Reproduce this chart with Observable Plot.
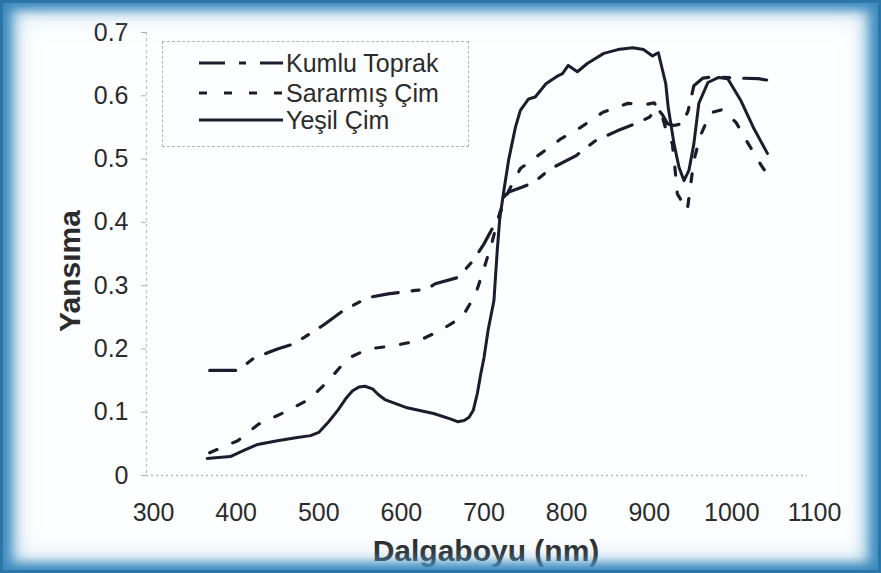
<!DOCTYPE html>
<html>
<head>
<meta charset="utf-8">
<script src="https://cdn.jsdelivr.net/npm/d3@7"></script>
<script src="https://cdn.jsdelivr.net/npm/@observablehq/plot@0.6"></script>
<style>
  html, body { margin:0; padding:0; background:#ffffff; }
  #wrap { position:relative; width:881px; height:573px; overflow:hidden; background:#fdfeff; font-family:"Liberation Sans", Arial, sans-serif; }
  #chart { position:absolute; left:0; top:0; }
  #legend { position:absolute; left:162px; top:41px; width:307px; height:106px; border:1.5px dashed #b5b5b5; box-sizing:border-box; }
  .row { position:absolute; left:35px; height:30px; display:flex; align-items:center; font-size:25px; color:#2b2b2b; }
  .row svg { margin-right:2px; }
  #frame { position:absolute; left:0; top:0; width:881px; height:573px; pointer-events:none;
    box-shadow: inset 0 0 0 3px #2b75a7, inset 0 0 12px 8px #3a8abd, inset 10px 0 16px 2px rgba(70,145,195,0.8), inset -10px 0 16px 2px rgba(70,145,195,0.8), inset 0 0 26px 12px rgba(140,190,220,0.5); }
</style>
</head>
<body>
<div id="wrap">
  <div id="chart"></div>
  <div id="legend"></div>
  <div id="frame"></div>
</div>
<script>
// Series names
const seriesNames = ["Kumlu Toprak", "Sararmış Çim", "Yeşil Çim"];

// Kumlu Toprak
const kumluX = [368, 402, 421, 450, 470, 482, 505, 529, 559, 584, 614, 630, 641, 669, 687, 700, 710, 718, 724, 730, 745, 760, 781, 811, 835, 862, 887, 900, 910, 916, 922, 930, 940, 947, 954, 965, 978, 1007, 1032, 1042];
const kumluY = [0.166, 0.166, 0.185, 0.200, 0.208, 0.218, 0.237, 0.260, 0.281, 0.287, 0.292, 0.294, 0.303, 0.313, 0.340, 0.366, 0.390, 0.408, 0.440, 0.448, 0.455, 0.463, 0.485, 0.505, 0.529, 0.545, 0.558, 0.566, 0.580, 0.570, 0.556, 0.553, 0.556, 0.576, 0.616, 0.628, 0.630, 0.628, 0.627, 0.625];

// Sararmış Çim
const sararmisX = [368, 377, 402, 427, 457, 488, 512, 535, 560, 590, 621, 647, 674, 690, 700, 710, 718, 730, 744, 769, 793, 817, 844, 874, 895, 906, 916, 920, 928, 931, 934, 946, 950, 954, 962, 974, 988, 1005, 1020, 1037, 1042];
const sararmisY = [0.036, 0.041, 0.055, 0.081, 0.099, 0.120, 0.150, 0.185, 0.200, 0.205, 0.213, 0.229, 0.251, 0.287, 0.327, 0.370, 0.410, 0.450, 0.485, 0.509, 0.532, 0.550, 0.574, 0.588, 0.586, 0.589, 0.566, 0.548, 0.524, 0.487, 0.445, 0.419, 0.458, 0.498, 0.537, 0.573, 0.578, 0.558, 0.524, 0.487, 0.478];

// Yeşil Çim
const yesilX = [365, 375, 393, 410, 426, 450, 474, 490, 500, 512, 523, 533, 541, 549, 556, 565, 572, 580, 607, 639, 660, 668, 676, 682, 687, 692, 696, 700, 705, 712, 716, 719, 724, 730, 738, 744, 754, 762, 775, 790, 795, 802, 813, 825, 845, 862, 880, 893, 904, 911, 920, 923, 930, 936, 942, 948, 954, 960, 971, 984, 995, 1011, 1026, 1043];
const yesilY = [0.027, 0.028, 0.030, 0.040, 0.049, 0.055, 0.060, 0.063, 0.068, 0.085, 0.103, 0.122, 0.134, 0.140, 0.141, 0.137, 0.128, 0.120, 0.107, 0.098, 0.089, 0.085, 0.087, 0.092, 0.103, 0.130, 0.160, 0.186, 0.230, 0.276, 0.355, 0.405, 0.450, 0.500, 0.550, 0.577, 0.595, 0.598, 0.619, 0.632, 0.635, 0.648, 0.638, 0.651, 0.667, 0.673, 0.676, 0.673, 0.663, 0.668, 0.619, 0.581, 0.524, 0.487, 0.466, 0.482, 0.524, 0.588, 0.621, 0.629, 0.627, 0.592, 0.550, 0.509];

// Axis ticks and titles
const xTicks = [300, 400, 500, 600, 700, 800, 900, 1000, 1100];
const yTicks = [0, 0.1, 0.2, 0.3, 0.4, 0.5, 0.6, 0.7];
const xTitle = "Dalgaboyu (nm)";
const yTitle = "Yansıma";

const lineColor = "#1c1d2c";
const dashes = ["26,14,7,14", "8,17", null];

const toRows = (xs, ys) => xs.map((x, i) => ({x, y: ys[i]}));
const kumlu = toRows(kumluX, kumluY);
const sararmis = toRows(sararmisX, sararmisY);
const yesil = toRows(yesilX, yesilY);

const fmtY = d => d === 0 ? "0" : d.toFixed(1);
const fmtX = d => String(d);

const chart = Plot.plot({
  width: 881,
  height: 573,
  marginLeft: 153,
  marginRight: 67,
  marginTop: 32,
  marginBottom: 98,
  style: {fontFamily: "'Liberation Sans', Arial, sans-serif", fontSize: "25px", color: "#2b2b2b", background: "transparent", overflow: "visible"},
  x: {domain: [300, 1100]},
  y: {domain: [0, 0.7]},
  marks: [
    Plot.ruleY([0], {stroke: "#b8b8b8", strokeDasharray: "2,3", strokeWidth: 1.5, dx: -7}),
    Plot.ruleX([300], {dx: -7, stroke: "#c4c4c4", strokeDasharray: "3,3", strokeWidth: 1.2}),
    Plot.axisY({ticks: yTicks, tickFormat: fmtY, dx: -7, tickSize: 5, tickPadding: 13, stroke: "#b0b0b0", label: null}),
    Plot.axisX({ticks: xTicks, tickFormat: fmtX, tickSize: 0, tickPadding: 28, label: null}),
    Plot.line(sararmis, {x: "x", y: "y", stroke: lineColor, strokeWidth: 3.2, strokeDasharray: dashes[1]}),
    Plot.line(kumlu, {x: "x", y: "y", stroke: lineColor, strokeWidth: 3.2, strokeDasharray: dashes[0]}),
    Plot.line(yesil, {x: "x", y: "y", stroke: lineColor, strokeWidth: 3, strokeLinejoin: "round"}),
    Plot.text([yTitle], {frameAnchor: "left", textAnchor: "middle", lineAnchor: "middle", dx: -83, dy: 17, rotate: -90, fontWeight: "bold", fontSize: 30, fill: "#2b2b2b"}),
    Plot.text([xTitle], {frameAnchor: "bottom", textAnchor: "middle", lineAnchor: "middle", dx: 2, dy: 76, fontWeight: "bold", fontSize: 30, fill: "#2b2b2b"})
  ]
});
document.getElementById("chart").appendChild(chart);

// Legend (HTML)
const legend = document.getElementById("legend");
const rowTops = [6, 36, 63];
seriesNames.forEach((name, i) => {
  const row = document.createElement("div");
  row.className = "row";
  row.style.top = rowTops[i] + "px";
  const ns = "http://www.w3.org/2000/svg";
  const svg = document.createElementNS(ns, "svg");
  svg.setAttribute("width", 86);
  svg.setAttribute("height", 10);
  const ln = document.createElementNS(ns, "line");
  ln.setAttribute("x1", 1); ln.setAttribute("x2", 85);
  ln.setAttribute("y1", 5); ln.setAttribute("y2", 5);
  ln.setAttribute("stroke", lineColor);
  ln.setAttribute("stroke-width", 3.2);
  if (dashes[i]) ln.setAttribute("stroke-dasharray", dashes[i]);
  svg.appendChild(ln);
  row.appendChild(svg);
  const t = document.createElement("span");
  t.textContent = name;
  row.appendChild(t);
  legend.appendChild(row);
});
</script>
</body>
</html>
